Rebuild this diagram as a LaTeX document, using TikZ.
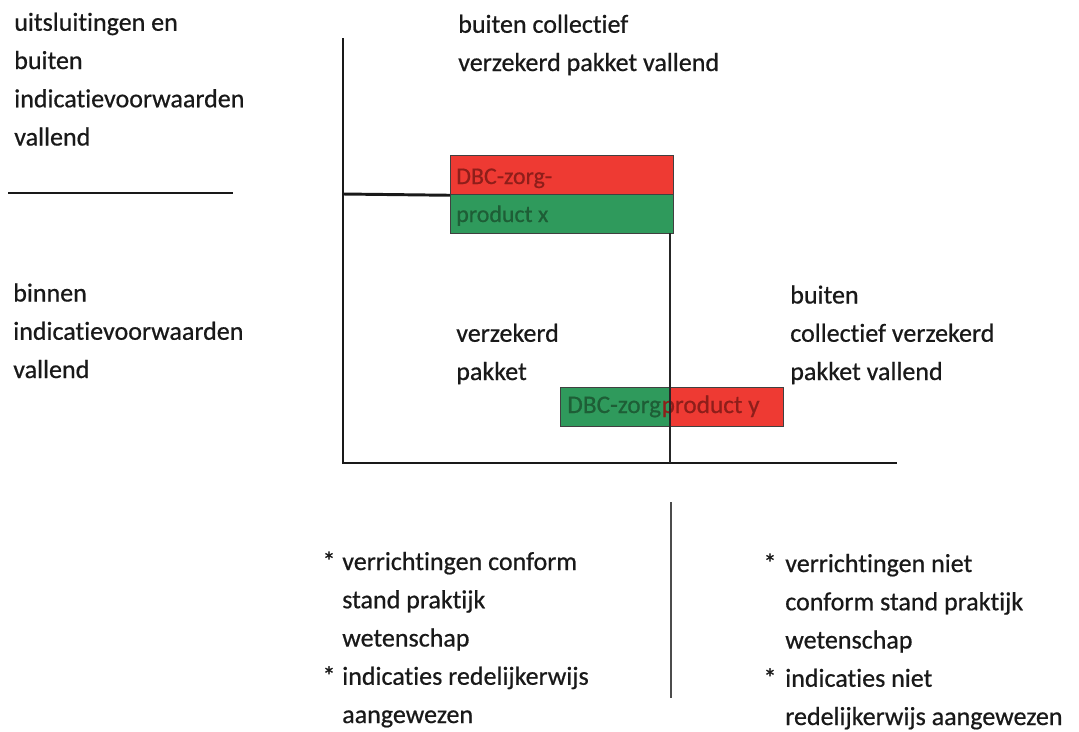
\documentclass[tikz,border=0pt]{standalone}
\usepackage{fontspec}
\setmainfont{Carlito}[Ligatures=NoCommon, FakeBold=0.6]
\definecolor{boxred}{HTML}{EE3A33}
\definecolor{boxgreen}{HTML}{2F9A5C}
\definecolor{txtred}{HTML}{8E1E1A}
\definecolor{txtgreen}{HTML}{1E5E36}
\begin{document}
\begin{tikzpicture}[x=0.025cm,y=-0.025cm,
  lbl/.style={font=\fontsize{18.5}{27.2}\selectfont, align=left, anchor=base west, inner sep=0pt, text=black!90},
  axisline/.style={line width=2.1pt, black!90},
  thinline/.style={line width=1.5pt, black!85},
  sepline/.style={line width=1.8pt, black!70},
  boxlbl/.style={font=\fontsize{17}{20}\selectfont, inner sep=0pt, anchor=base west},
  pbox/.style={draw=black!75, line width=0.9pt, minimum height={39*0.025cm}, inner sep=0pt, anchor=north west}]
\useasboundingbox (0,0) rectangle (1079,731);

% product boxes
\node[pbox, fill=boxred, minimum width={223*0.025cm}] (xr) at (450,155) {};
\node[pbox, fill=boxgreen, minimum width={223*0.025cm}] (xg) at (450,194) {};
\node[pbox, fill=boxgreen, minimum width={110*0.025cm}] (yg) at (560,387) {};
\node[pbox, fill=boxred, minimum width={113*0.025cm}] (yr) at (670,387) {};

\node[boxlbl, text=txtred] (xt1) at (456,184) {DBC-zorg-};
\node[boxlbl, text=txtgreen] (xt2) at (456,222) {product x};
\node[boxlbl, text=txtgreen, font=\fontsize{18}{20}\selectfont] (yt1) at (567,413) {DBC-zorg};
\node[boxlbl, text=txtred, font=\fontsize{18}{20}\selectfont, anchor=base west] (yt2) at (yt1.base east) {product y};

% axes
\coordinate (axtop) at (343,38);
\coordinate (axorigin) at (343,463);
\coordinate (axend) at (897,463);
\coordinate (axmid) at (343,194);
\coordinate (leftA) at (8,193);
\coordinate (leftB) at (233,193);
\coordinate (divtop) at (670,233);
\coordinate (divbot) at (670,463);
\coordinate (septop) at (671,502);
\coordinate (sepbot) at (671,698);

\draw[axisline] (axtop) -- (axorigin) -- (axend);
\draw[axisline] (axmid) -- (xr.south west);
\draw[axisline] (leftA) -- (leftB);
\draw[thinline] (divtop) -- (divbot);
\draw[sepline] (septop) -- (sepbot);

% labels (anchor = baseline of the last line)
\node[lbl] (tl) at (14,145.5) {uitsluitingen en\\buiten\\indicatievoorwaarden\\vallend};
\node[lbl] (tm) at (458,71) {buiten collectief\\verzekerd pakket vallend};
\node[lbl] (ml) at (13,378) {binnen\\indicatievoorwaarden\\vallend};
\node[lbl] (mm) at (456,380) {verzekerd\\pakket};
\node[lbl] (mr) at (790,380) {buiten\\collectief verzekerd\\pakket vallend};
\node[lbl] (bl) at (342,723) {\llap{*\hspace{0.17cm}}verrichtingen conform\\stand praktijk\\wetenschap\\\llap{*\hspace{0.17cm}}indicaties redelijkerwijs\\aangewezen};
\node[lbl] (br) at (785,725) {\llap{*\hspace{0.22cm}}verrichtingen niet\\conform stand praktijk\\wetenschap\\\llap{*\hspace{0.22cm}}indicaties niet\\redelijkerwijs aangewezen};
\end{tikzpicture}
\end{document}
